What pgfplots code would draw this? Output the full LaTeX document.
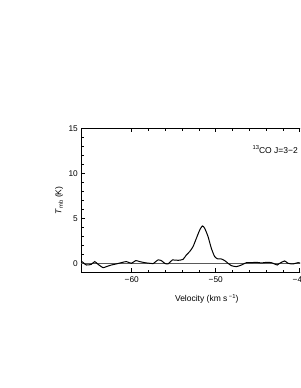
\documentclass[border=0pt]{standalone}
\usepackage{fontspec}
\setmainfont{Liberation Sans}
\usepackage{pgfplots}
\pgfplotsset{compat=1.18}
\begin{document}
\begin{tikzpicture}[x=1pt,y=1pt]
\useasboundingbox (0,0) rectangle (300,388);
\clip (0,0) rectangle (300,388);
\begin{axis}[
  at={(81.3pt,115.7pt)}, anchor=south west,
  scale only axis, width=252pt, height=144pt,
  xmin=-66, xmax=-36, ymin=-1, ymax=15,
  xtick={-60,-50,-40}, xticklabels={−60,−50,−40},
  ytick={0,5,10,15}, yticklabels={0,5,10,15},
  minor x tick num=4, minor y tick num=4,
  tick align=inside, ticks=both,
  xtick pos=both, ytick pos=both,
  major tick length=4pt, minor tick length=2.5pt,
  tick style={black, line width=0.7pt},
  axis line style={black, line width=0.9pt},
  tick label style={font=\fontsize{8.3}{10}\selectfont},
  xticklabel style={yshift=-1pt},
  clip=false,
]
\addplot[black!65, line width=1.5pt] coordinates {(-66,0) (-36,0)};
\addplot[black, line width=1pt, smooth, tension=0.4] coordinates {
(-65.91,0.19) (-65.40,-0.19) (-64.80,-0.11) (-64.40,0.19) (-64.01,-0.11)
(-63.41,-0.48) (-63.02,-0.37) (-62.42,-0.19) (-61.83,-0.07) (-61.23,0.07)
(-60.63,0.19) (-60.04,0.0) (-59.52,0.30) (-59.05,0.19) (-58.45,0.07)
(-57.86,0.0) (-57.46,-0.04) (-56.87,0.37) (-56.47,0.30) (-56.07,0.0)
(-55.67,-0.07) (-55.16,0.37) (-54.48,0.33) (-53.89,0.44) (-53.49,0.93)
(-53.10,1.30) (-52.70,1.85) (-52.30,2.78) (-51.90,3.70) (-51.59,4.15)
(-51.31,3.89) (-50.91,2.96) (-50.52,1.67) (-50.12,0.74) (-49.72,0.48)
(-49.33,0.48) (-48.93,0.30) (-48.53,0.0) (-48.13,-0.26) (-47.54,-0.37)
(-46.94,-0.19) (-46.35,0.07) (-45.75,0.07) (-45.16,0.11) (-44.56,0.04)
(-43.93,0.11) (-43.37,0.07) (-42.67,-0.19) (-42.38,0.0) (-41.79,0.26)
(-41.39,0.0) (-40.79,-0.07) (-40.20,0.07) (-39.60,0.0) (-39.0,0.1)
};
\node[font=\fontsize{8.5}{10}\selectfont, rotate=90, anchor=center]
  at (rel axis cs:-0.088,0.50) {\textit{T}\raisebox{-0.35ex}{\fontsize{5.8}{6}\selectfont mb} (K)};
\node[font=\fontsize{8.5}{10}\selectfont, anchor=center]
  at (rel axis cs:0.4976,-0.185) {Velocity (km s\,\raisebox{0.8ex}{\fontsize{5.8}{6}\selectfont −1})};
\node[font=\fontsize{8.5}{10}\selectfont, anchor=west, inner sep=0pt]
  at (rel axis cs:0.679,0.854) {\raisebox{0.8ex}{\fontsize{5.8}{6}\selectfont 13}CO J=3−2};
\end{axis}
\end{tikzpicture}
\end{document}
